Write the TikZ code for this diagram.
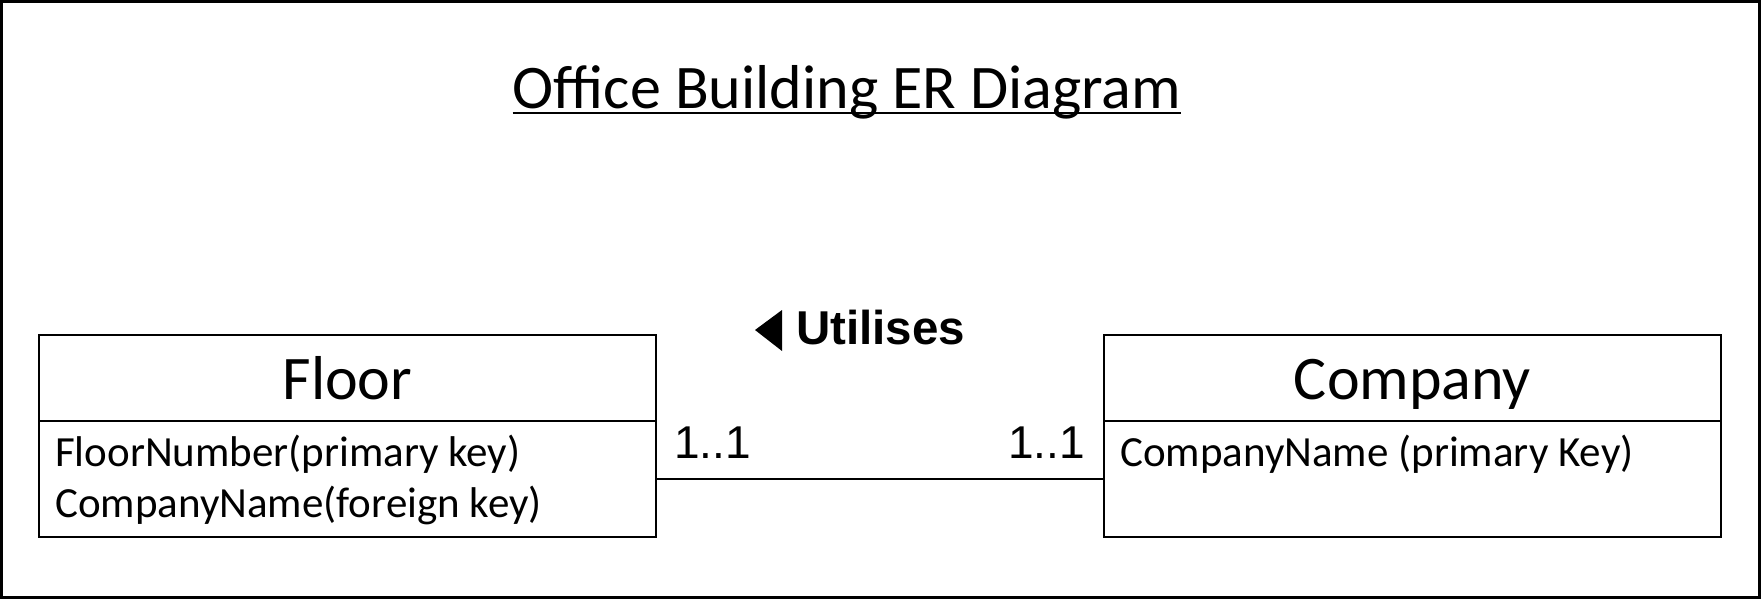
\documentclass[tikz,border=0pt]{standalone}
\usepackage{fontspec}
\setmainfont{Carlito}
\newfontfamily\arialf{Liberation Sans}
\begin{document}
\begin{tikzpicture}[x=1pt,y=-1pt,
  boxpart/.style={draw, line width=2pt, inner sep=0pt, outer sep=0pt, minimum width=617pt, anchor=north west},
  bigtxt/.style={inner sep=0pt, anchor=base, font=\fontsize{62}{70}\selectfont},
  attr/.style={inner sep=0pt, anchor=base west, font=\fontsize{43}{50}\selectfont},
  mult/.style={inner sep=0pt, anchor=base west, font=\arialf\fontsize{46}{52}\selectfont},
  rel/.style={inner sep=0pt, anchor=base west, font=\arialf\bfseries\fontsize{47.5}{52}\selectfont}]
\useasboundingbox (0,0) rectangle (1761,599);
\draw[line width=3pt] (1.5,1.5) rectangle (1759.5,597.5);
% title
\node[bigtxt] (title) at (847,109) {Office Building ER Diagram};
\draw[line width=1.5pt] ([yshift=-4pt]title.base west) -- ([yshift=-4pt]title.base east);
% Floor entity
\node[boxpart, minimum height=86pt] (floorH) at (39,335) {};
\node[boxpart, minimum height=116pt] (floorA) at (39,421) {};
\node[bigtxt] (floorT) at (347.5,399) {Floor};
\node[attr] (fa1) at (55,466) {FloorNumber(primary key)};
\node[attr] (fa2) at (55,517) {CompanyName(foreign key)};
% Company entity
\node[boxpart, minimum height=86pt] (compH) at (1104,335) {};
\node[boxpart, minimum height=116pt] (compA) at (1104,421) {};
\node[bigtxt] (compT) at (1412.5,399) {Company};
\node[attr] (ca1) at (1120,466) {CompanyName (primary Key)};
% relationship
\draw[line width=2.5pt] (floorA.east) -- (compA.west);
\node[mult] (m1) at (674,458) {1..1};
\node[mult] (m2) at (1008,458) {1..1};
\node[rel] (rl) at (796,344) {Utilises};
\fill (755,330) -- (782,310) -- (782,351) -- cycle;
\end{tikzpicture}
\end{document}
